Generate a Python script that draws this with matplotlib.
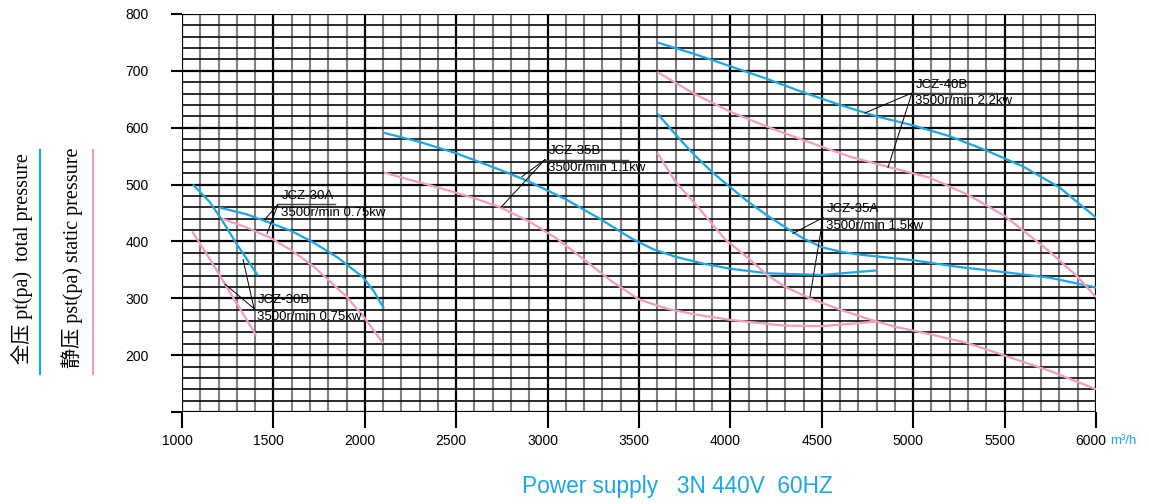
import numpy as np
import matplotlib
matplotlib.use("Agg")
import matplotlib.pyplot as plt
from matplotlib.transforms import offset_copy, ScaledTranslation

BLUE = "#1aa7e6"
PINK = "#f29cc0"

# flow (m3/h) and pressure (pa)
jcz30b_q_total = [1060, 1150, 1210, 1300, 1415]
jcz30b_p_total = [500, 470, 442, 395, 340]
jcz30b_q_static = [1055, 1150, 1235, 1320, 1405]
jcz30b_p_static = [418, 370, 325, 280, 235]

jcz30a_q_total = [1200, 1350, 1480, 1600, 1720, 1850, 1990, 2050, 2105]
jcz30a_p_total = [460, 448, 433, 418, 398, 372, 337, 312, 282]
jcz30a_q_static = [1220, 1350, 1480, 1600, 1720, 1900, 2000, 2100]
jcz30a_p_static = [440, 425, 407, 384, 356, 303, 265, 221]

jcz35b_q_total = [2105, 2300, 2500, 2740, 2900, 3100, 3290, 3460, 3580, 3700, 3850, 4000, 4200, 4500, 4800]
jcz35b_p_total = [591, 575, 555, 526, 505, 474, 439, 405, 386, 373, 361, 352, 344, 341, 349]
jcz35b_q_static = [2105, 2400, 2600, 2740, 2900, 3050, 3200, 3350, 3500, 3650, 3800, 4000, 4290, 4500, 4800]
jcz35b_p_static = [521, 495, 476, 460, 435, 405, 368, 330, 298, 282, 272, 262, 252, 251, 259]

jcz35a_q_total = [3600, 3700, 3800, 3900, 4000, 4100, 4200, 4300, 4400, 4500, 4600, 4700,
                  5000, 5250, 5500, 5750, 6000]
jcz35a_p_total = [625, 588, 553, 522, 495, 469, 446, 425, 405, 390, 382, 377,
                  367, 355, 346, 336, 319]
jcz35a_q_static = [3600, 3700, 3834, 3970, 4100, 4200, 4300, 4435, 4600, 4750, 4900, 5090,
                   5300, 5475, 5750, 6000]
jcz35a_p_static = [556, 505, 456, 404, 370, 341, 320, 300, 280, 264, 250, 237,
                   221, 202, 172, 140]

jcz40b_q_total = [3600, 3800, 4000, 4200, 4400, 4600, 4800, 5000, 5200, 5400, 5600, 5800, 6000]
jcz40b_p_total = [750, 730, 708, 686, 662, 640, 620, 604, 585, 560, 532, 495, 442]
jcz40b_q_static = [3600, 3800, 4000, 4200, 4400, 4654, 4900, 5092, 5300, 5500, 5732, 5896, 6000]
jcz40b_p_static = [698, 660, 628, 602, 578, 549, 528, 512, 482, 445, 386, 339, 302]

# annotation: name, speed/power, elbow point, curve points the leaders touch, underline length
notes = [
    ("JCZ-30A", "3500r/min 0.75kw", (1525, 465), [(1454, 439), (1465, 414)], 312),
    ("JCZ-30B", "3500r/min 0.75kw", (1394, 282), [(1334, 368), (1235, 325)], 0),
    ("JCZ-35B", "3500r/min 1.1kw", (2986, 544), [(2860, 514), (2745, 460)], 455),
    ("JCZ-35A", "3500r/min 1.5kw", (4507, 442), [(4342, 414), (4435, 302)], 460),
    ("JCZ-40B", "3500r/min 2.2kw", (4993, 661), [(4736, 626), (4862, 530)], 465),
]

x_ticks = np.arange(1000, 6001, 500)
y_ticks = np.arange(100, 801, 100)

plt.rcParams["font.family"] = ["Liberation Sans", "DejaVu Sans"]

fig = plt.figure(figsize=(11.49, 5.04), dpi=100)
ax = fig.add_axes([182 / 1149, 92 / 504, 914 / 1149, 398 / 504])
ax.set_xlim(1000, 6000)
ax.set_ylim(100, 800)
for s in ax.spines.values():
    s.set_visible(False)

ax.set_xticks(x_ticks)
ax.set_xticks(np.arange(1000, 6001, 100), minor=True)
ax.set_yticks(y_ticks)
ax.set_yticks(np.arange(100, 801, 20), minor=True)
ax.set_yticklabels(["" if v == 100 else str(v) for v in y_ticks])

ax.grid(which="minor", axis="x", color="#808080", lw=1.5, zorder=0)
ax.grid(which="minor", axis="y", color="#1a1a1a", lw=1.3, zorder=0)
ax.grid(which="major", axis="both", color="black", lw=1.6, zorder=0)
ax.set_axisbelow(True)

ax.tick_params(axis="x", which="major", length=11.5, width=1.5, pad=4, labelsize=10)
ax.tick_params(axis="y", which="major", length=8, width=1.5, pad=16, labelsize=10)
ax.tick_params(which="minor", length=0)

shift = ScaledTranslation(-5 / 100, 0, fig.dpi_scale_trans)
for lab in ax.get_xticklabels():
    lab.set_transform(lab.get_transform() + shift)

series = [
    (jcz30b_q_total, jcz30b_p_total, BLUE), (jcz30b_q_static, jcz30b_p_static, PINK),
    (jcz30a_q_total, jcz30a_p_total, BLUE), (jcz30a_q_static, jcz30a_p_static, PINK),
    (jcz35b_q_total, jcz35b_p_total, BLUE), (jcz35b_q_static, jcz35b_p_static, PINK),
    (jcz35a_q_total, jcz35a_p_total, BLUE), (jcz35a_q_static, jcz35a_p_static, PINK),
    (jcz40b_q_total, jcz40b_p_total, BLUE), (jcz40b_q_static, jcz40b_p_static, PINK),
]
for q, p, c in series:
    ax.plot(q, p, color=c, lw=1.6, zorder=3, solid_capstyle="butt", solid_joinstyle="round")

for name, spec, (ex, ey), targets, ul in notes:
    for tx, ty in targets:
        ax.plot([ex, tx], [ey, ty], color="black", lw=0.7, zorder=4)
    if ul:
        ax.plot([ex, ex + ul], [ey, ey], color="#444444", lw=1.0, zorder=4)
    t1 = offset_copy(ax.transData, fig=fig, x=2.5, y=1.8, units="points")
    t2 = offset_copy(ax.transData, fig=fig, x=2.0, y=-1.5, units="points")
    ax.text(ex, ey, name, transform=t1, fontsize=9.5, ha="left", va="bottom", zorder=5)
    ax.text(ex, ey, spec, transform=t2, fontsize=9.5, ha="left", va="top", zorder=5)

fig.text(1110 / 1149, 1 - 441 / 504, "m³/h", color=BLUE, fontsize=9.5, ha="left", va="center")
fig.text(677 / 1149, 1 - 487 / 504, "Power supply   3N 440V  60HZ", color=BLUE,
         fontsize=16.3, ha="center", va="center")

serif_cjk = ["Liberation Serif", "Noto Sans CJK SC"]
fig.text(22 / 1149, 1 - 259 / 504, "全压 pt(pa)  total pressure", rotation=90,
         fontsize=14.5, family=serif_cjk, ha="center", va="center")
fig.text(72 / 1149, 1 - 258 / 504, "静压 pst(pa) static pressure", rotation=90,
         fontsize=14.5, family=serif_cjk, ha="center", va="center")
fig.add_artist(plt.Line2D([40 / 1149, 40 / 1149], [1 - 150 / 504, 1 - 374 / 504],
                          color=BLUE, lw=1.6))
fig.add_artist(plt.Line2D([93 / 1149, 93 / 1149], [1 - 150 / 504, 1 - 374 / 504],
                          color=PINK, lw=1.6))

fig.savefig("out.png", dpi=100)
